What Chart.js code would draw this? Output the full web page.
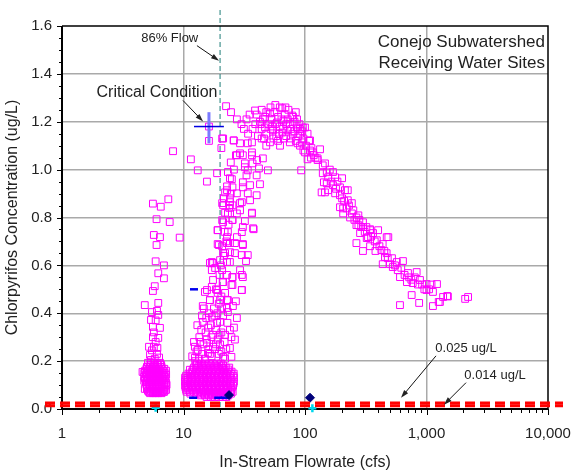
<!DOCTYPE html>
<html>
<head>
<meta charset="utf-8">
<script src="https://cdn.jsdelivr.net/npm/chart.js@4"></script>
<style>
  html, body { margin: 0; padding: 0; background: #fff; }
  #wrap { width: 573px; height: 474px; }
</style>
</head>
<body>
<div id="wrap"><canvas id="myChart" width="573" height="474"></canvas></div>
<script>
'use strict';

// ---- data (flow cfs, concentration ug/L) ----

// low flow group (~5-7 cfs), scattered squares
var lowFlowScatter = [
  [8.2,1.077],[7.5,0.876],[5.6,0.858],[6.5,0.845],[6.0,0.793],[7.7,0.781],[5.7,0.727],[6.4,0.718],
  [9.3,0.716],[6.0,0.685],[5.9,0.617],[6.9,0.600],[6.2,0.567],[6.9,0.546],[5.8,0.513],[5.6,0.493],
  [4.8,0.434],[6.2,0.443],[5.5,0.405],[6.05,0.41],[6.2,0.393],[5.4,0.372],[6.4,0.339],[5.6,0.343],
  [5.6,0.30],[6.2,0.297],[5.2,0.26],[5.7,0.26],[5.3,0.226],[6.05,0.23],[4.6,0.155],[4.8,0.084],
  [7.2,0.08],[5.9,0.28],[5.5,0.245],[6.1,0.255],[5.8,0.21],[5.4,0.205],[6.3,0.215],[5.9,0.37],[5.7,0.32]
];

// low flow group, dense core: [concentration, [flows]]
var lowFlowCore = [
  [0.193, [5.1,5.4,5.72,6.05,6.41]],
  [0.185, [5.25,5.55,5.85,6.2,6.55]],
  [0.176, [5.0,5.3,5.6,5.9,6.2,6.6]],
  [0.168, [4.95,5.25,5.55,5.9,6.25,6.6,6.95]],
  [0.160, [4.82,5.1,5.4,5.72,6.05,6.41,6.78,7.18]],
  [0.151, [4.75,5.0,5.3,5.6,5.95,6.3,6.65,7.0]],
  [0.143, [4.9,5.2,5.5,5.8,6.15,6.5,6.9,7.2]],
  [0.134, [4.75,5.0,5.3,5.6,5.95,6.3,6.65,7.0]],
  [0.126, [4.82,5.1,5.4,5.72,6.05,6.41,6.78,7.1]],
  [0.118, [4.75,5.0,5.3,5.6,5.95,6.3,6.65,7.0]],
  [0.110, [4.9,5.2,5.5,5.8,6.15,6.5,6.9,7.2]],
  [0.101, [4.95,5.25,5.55,5.9,6.25,6.6,6.95,7.25]],
  [0.093, [5.0,5.3,5.6,5.9,6.2,6.6,7.0]],
  [0.085, [5.0,5.25,5.55,5.9,6.25,6.6,6.95]],
  [0.076, [5.1,5.4,5.72,6.05,6.41,6.78,7.0]],
  [0.071, [5.2,5.55,5.9,6.25,6.6,6.9]],
  [0.066, [5.3,5.6,5.9,6.2,6.6]]
];

// 10-26 cfs dense core: [concentration, [flows]]
var midFlowCore = [
  [0.190, [12.9,13.9,15.0,16.2,17.4,18.8,20.3]],
  [0.182, [12.6,13.5,14.6,15.7,16.9,18.2,19.7,21.2]],
  [0.173, [12.2,13.1,14.2,15.3,16.5,17.8,19.2,20.7,22.3,23.8]],
  [0.165, [11.9,12.8,13.8,14.9,16.0,17.3,18.6,20.1,21.7,23.4]],
  [0.156, [11.8,12.6,13.6,14.7,15.9,17.1,18.5,20.0,21.5,23.2,24.9]],
  [0.148, [11.0,11.6,12.4,13.4,14.4,15.6,16.8,18.1,19.6,21.1,22.7,24.5,25.9]],
  [0.139, [10.5,11.3,12.2,13.1,14.2,15.3,16.5,17.8,19.2,20.7,22.3,24.1,25.8]],
  [0.131, [10.3,10.8,11.5,12.4,13.4,14.4,15.6,16.8,18.1,19.6,21.1,22.7,24.5,26.0]],
  [0.122, [10.4,10.9,11.7,12.6,13.6,14.7,15.9,17.1,18.5,20.0,21.5,23.2,24.9]],
  [0.114, [10.3,10.8,11.5,12.4,13.4,14.4,15.6,16.8,18.1,19.6,21.1,22.7,24.5,26.0]],
  [0.106, [10.5,11.3,12.2,13.1,14.2,15.3,16.5,17.8,19.2,20.7,22.3,24.1,25.8]],
  [0.097, [10.3,10.8,11.5,12.4,13.4,14.4,15.6,16.8,18.1,19.6,21.1,22.7,24.5,25.6]],
  [0.089, [10.4,10.9,11.7,12.6,13.6,14.7,15.9,17.1,18.5,20.0,21.5,23.2,24.9]],
  [0.080, [10.5,11.0,11.8,12.7,13.6,14.7,15.9,17.1,18.5,20.0,21.5,23.2,24.8]],
  [0.072, [10.6,11.3,12.2,13.1,14.2,15.3,16.5,17.8,19.2,20.7,22.3,24.1,25.4]],
  [0.064, [11.4,12.6,13.6,14.7,15.9,17.1,18.5,20.0,21.5,23.2,24.6]],
  [0.057, [13.9,15.0,16.2,17.4,18.8,20.3,21.9,23.4]],
  [0.050, [15.5,16.8,18.1,19.6,21.1,22.6]]
];

// rising plume, 11-50 cfs
var risingLimb = [
  [12.4,0.26],[13.7,0.28],[15.6,0.276],[17.5,0.26],[13.1,0.247],[15.9,0.234],[24.1,0.255],[24.8,0.218],
  [12.4,0.214],[21.2,0.218],[11.3,0.164],[21.2,0.172],[14.4,0.364],[17.1,0.385],[20,0.364],[24.1,0.33],
  [22,0.31],[24.8,0.30],[27.5,0.38],[23.2,0.405],[22.8,0.422],[16.5,0.455],[22.8,0.455],[19.1,0.485],
  [15,0.489],[17.1,0.51],[25.3,0.518],[30.2,0.497],[22.8,0.56],[25.3,0.551],[30.2,0.56],[17.1,0.58],
  [17.5,0.61],[24.1,0.614],[32.7,0.618],
  [16.5,0.23],[18.2,0.25],[19.1,0.29],[17.5,0.31],[20,0.27],[16,0.34],[18.9,0.36],[21.2,0.39],
  [17.8,0.42],[19.5,0.44],[20.5,0.47],[18.5,0.5],[21,0.53],[19.8,0.56],[20.3,0.6],[21.5,0.64],
  [20.8,0.68],[22.5,0.7],[21.8,0.74],[23.5,0.77],[22,0.82],[23.8,0.84],[21.5,0.88],[24.5,0.9],
  [22.8,0.93],[25,0.96],[23.2,0.99],[26,1.0],[24.5,1.03],
  [12.2,0.28],[12.8,0.24],[13.5,0.3],[11.8,0.22],[12.5,0.2],[14,0.33],[13,0.35],[14.7,0.42],
  [15.6,0.497],[16.5,0.61],[14.2,0.39],[15.2,0.32],[14.6,0.27],[16.2,0.4],[18.6,0.33],[20.5,0.32],
  [19.5,0.23],[22.5,0.25],[23,0.36],[26,0.34],[25.5,0.43],[27,0.45],[26.5,0.29],[21.8,0.28],
  [15,0.21],[16,0.25],[17,0.22],[18.5,0.27],[20.5,0.24],[22,0.21],[15.5,0.29],[17,0.3],
  [19.8,0.31],[14.2,0.23],[13.5,0.21],[16.8,0.35],[18,0.39],[15.4,0.38],[20.8,0.42],[19,0.4],
  [20.8,0.86],[24.1,0.851],[29.2,0.86],[36.6,0.82],[27.5,0.817],[21.2,0.78],[25.3,0.79],[32,0.785],
  [19.1,0.747],[23.2,0.739],[30.2,0.739],[37.8,0.751],[22.8,0.693],[26.5,0.693],[30.8,0.689],[19.1,0.689],
  [24.1,0.655],[30.2,0.643],[33.8,0.643],[21.2,0.651],[17.1,0.614],[20,0.622],[22.8,0.614],[18.2,0.589],
  [20.8,0.58],[29.2,0.58],[25.3,0.551],[30.8,0.551],[17.5,0.539],[21.2,0.53],[24.8,0.518],[18.9,0.497],
  [22,0.485],[30.2,0.497],[16.5,0.455],[20,0.455],[23.2,0.455],[14.4,0.43],
  [21.2,1.13],[20.5,1.09],[25.9,1.122],[29.2,1.11],[33.8,1.11],[30.8,1.06],[36.6,1.072],[27.5,1.06],
  [32,1.026],[40.3,1.04],[33.8,0.997],[41.8,1.005],[24.1,0.964],[25.3,0.926],[30.8,0.926],[33.8,0.901],
  [40,0.893],[22.8,0.914],[24.1,0.88],[21.2,0.851],[25.3,0.851],[29.2,0.83],[36.6,0.817],[23.2,0.817],
  [20.8,0.789],[25.3,0.789],[30.8,0.76],[37.4,0.755],[19.1,0.747],[22.8,0.718],[27.5,0.718],[30.8,0.685],
  [19.5,0.685],[24.1,0.693],[22,0.651],[26.5,0.651],
  [32,1.01],[33,0.976],[40,0.976],[42.6,0.939],[30.8,0.947],[35.3,0.935],[27.5,0.901],[35.3,0.872],
  [22,0.905],[24.1,0.864],[30.2,0.864],[27,1.06],[29.2,1.068],[36.6,1.06],[45,1.047],[37,1.026],[49.5,0.997],
  [22.4,1.265],[24.6,1.24],[20.8,1.13],[15.6,0.95],[11.5,1.043],[13.1,0.997],[18.9,0.985],[16.2,1.12],[16.2,1.18]
];

// peak, 27-130 cfs
var peakArc = [
  [27.5,1.21],[33,1.21],[31.4,1.17],[37,1.17],[38.8,1.247],[42.6,1.20],[46.9,1.176],[51.5,1.235],
  [54.6,1.164],[58.8,1.197],[65,1.256],[65,1.155],[70,1.19],[78.5,1.226],[79,1.15],[91,1.17],
  [100,1.176],[25.9,1.122],[36.6,1.114],[44,1.13],[51.5,1.114],[62.3,1.10],[75,1.114],[91,1.10],
  [110,1.08],[66.6,1.205],[71.7,1.164],[85.8,1.176],[96,1.176],[91,1.15],[105,1.15],[94,1.114],
  [110,1.122],[100,1.072],[116,1.072],[133,1.085],[105,1.043],[127,1.04],[93,0.997],
  [40,1.23],[44,1.25],[47,1.22],[50,1.19],[53,1.21],[56,1.24],[60,1.22],[62,1.18],[68,1.23],
  [72,1.21],[75,1.19],[82,1.20],[86,1.21],[88,1.14],[84,1.12],[76,1.13],[70,1.14],[58,1.14],
  [55,1.13],[48,1.15],[44,1.17],[41,1.14],[39,1.19],[35,1.23],[30,1.19],[34,1.15],[48,1.10],
  [60,1.12],[66,1.17],[82,1.16],[97,1.13],[102,1.10],[108,1.12],[113,1.09],[118,1.06],[122,1.05],
  [112,1.05],[97,1.08],[87,1.11],[62,1.26],[57,1.27],[73,1.25],[45,1.21],[52,1.26],
  [43,1.19],[46,1.13],[52,1.17],[57,1.19],[61,1.15],[64,1.21],[67,1.13],[77,1.17],
  [80,1.22],[90,1.19],[95,1.16],[84,1.24],[69,1.26],[48,1.24],[54,1.18]
];

// falling limb, 110-2300 cfs
var fallingLimb = [
  [127,1.047],[140,1.018],[151,0.989],[143,0.947],[155,0.914],[137,0.905],[146,1.026],[140,0.985],
  [155,0.968],[177,0.968],[202,0.964],[151,0.943],[170,0.935],[194,0.926],[213,0.914],[177,0.901],
  [202,0.88],[225,0.872],[194,0.843],[220,0.838],[243,0.86],[206,0.817],[243,0.817],[265,0.80],
  [275,0.768],[300,0.76],[343,0.747],[400,0.747],[284,0.735],[330,0.718],[470,0.718],[146,0.905],
  [194,0.893],[225,0.914],[206,0.838],[250,0.83],[275,0.809],[300,0.78],[265,0.768],[290,0.76],
  [343,0.751],[363,0.735],[322,0.714],[485,0.718],[265,0.693],[300,0.66],[343,0.68],[390,0.705],
  [436,0.689],[425,0.664],[470,0.651],[455,0.635],[436,0.605],[500,0.605],[570,0.614],[640,0.618],
  [580,0.58],[528,0.593],[605,0.551],[704,0.568],[830,0.572],[690,0.53],[770,0.526],[884,0.539],
  [1000,0.522],[1220,0.522],[755,0.476],[1000,0.497],[1130,0.489],[1480,0.472],[1370,0.468],[2200,0.468],
  [2080,0.46],[605,0.434],[870,0.443],[1130,0.43],[1260,0.447],[1290,0.447],
  [160,1.00],[165,0.95],[180,0.92],[185,0.95],[170,0.99],[210,0.87],[230,0.85],[235,0.80],
  [255,0.79],[280,0.79],[310,0.74],[320,0.76],[350,0.72],[375,0.70],[410,0.68],[380,0.66],
  [450,0.66],[480,0.63],[520,0.63],[550,0.60],[620,0.59],[660,0.56],[720,0.55],[750,0.54],
  [800,0.55],[850,0.52],[920,0.52],[960,0.50],[1050,0.50],[1100,0.52],[1500,0.47]
];

// other markers
var dashFlow = [12.2, 12.0, 19.3, 21.8];
var dashConc = [0.50, 0.047, 0.047, 0.047];
var diamondFlow = [23.7, 110];
var diamondConc = [0.058, 0.047];
var plusFlow = [5.9, 115];
var plusConc = [0.005, 0.003];

// critical condition cross: low / centre / high
var critFlow = [12.2, 16.2, 21.5];
var critConc = [1.11, 1.18, 1.24];

// reference lines
var thresholds = [0.025, 0.014];
var flow86 = 20;

// axis ticks
var xTickValues = [1, 10, 100, 1000, 10000];
var yTickLabels = ['0.0','0.2','0.4','0.6','0.8','1.0','1.2','1.4','1.6'];

// ---- helpers ----
function pairsToPoints(list) {
  return list.map(function(d) { return {x: d[0], y: d[1]}; });
}
function rowsToPoints(rows) {
  var out = [];
  rows.forEach(function(r) {
    r[1].forEach(function(f) { out.push({x: f, y: r[0]}); });
  });
  return out;
}
function zipPoints(xs, ys) {
  return xs.map(function(v, i) { return {x: v, y: ys[i]}; });
}

var magentaPts = [].concat(
  pairsToPoints(lowFlowScatter), rowsToPoints(lowFlowCore),
  pairsToPoints(risingLimb), rowsToPoints(midFlowCore),
  pairsToPoints(peakArc), pairsToPoints(fallingLimb)
);

function arrow(ctx, x1, y1, x2, y2) {
  var a = Math.atan2(y2 - y1, x2 - x1), L = 8, W = 2.6;
  ctx.beginPath();
  ctx.moveTo(x1, y1);
  ctx.lineTo(x2 - L * 0.8 * Math.cos(a), y2 - L * 0.8 * Math.sin(a));
  ctx.stroke();
  ctx.beginPath();
  ctx.moveTo(x2, y2);
  ctx.lineTo(x2 - L * Math.cos(a) + W * Math.sin(a), y2 - L * Math.sin(a) - W * Math.cos(a));
  ctx.lineTo(x2 - L * Math.cos(a) - W * Math.sin(a), y2 - L * Math.sin(a) + W * Math.cos(a));
  ctx.closePath();
  ctx.fill();
}

var FONT = '"Liberation Sans", Arial, Helvetica, sans-serif';
Chart.defaults.font.family = FONT;
Chart.defaults.color = '#222';

//annotations, reference lines, frame and tick marks
var overlay = {
  id: 'overlay',
  beforeDatasetsDraw: function(chart) {
    var c = chart.ctx, a = chart.chartArea, xs = chart.scales.x, ys = chart.scales.y;
    var px = xs.getPixelForValue(flow86);
    c.save();
    c.strokeStyle = '#1d7d78';
    c.lineWidth = 1;
    c.setLineDash([5, 3]);
    c.beginPath();
    c.moveTo(px, a.top - 16);
    c.lineTo(px, a.bottom);
    c.stroke();
    c.setLineDash([]);

    c.strokeStyle = '#000';
    // top and right border
    c.lineWidth = 1.5;
    c.beginPath();
    c.moveTo(a.left, a.top);
    c.lineTo(a.right, a.top);
    c.lineTo(a.right, a.bottom);
    c.stroke();
    // axes
    c.lineWidth = 2;
    c.beginPath();
    c.moveTo(a.left, a.top);
    c.lineTo(a.left, a.bottom);
    c.lineTo(a.right, a.bottom);
    c.stroke();
    // x tick marks (log minor)
    c.lineWidth = 1;
    c.beginPath();
    for (var p = 0; p < 4; p++) {
      for (var k = 1; k <= 9; k++) {
        var tx = Math.round(xs.getPixelForValue(k * Math.pow(10, p))) + 0.5;
        c.moveTo(tx, a.bottom);
        c.lineTo(tx, a.bottom + (k === 1 ? 6 : 4));
      }
    }
    var pe = Math.round(xs.getPixelForValue(10000)) + 0.5;
    c.moveTo(pe, a.bottom);
    c.lineTo(pe, a.bottom + 6);
    // y tick marks every 0.05
    for (var i = 0; i <= 32; i++) {
      var ty = Math.round(ys.getPixelForValue(i * 0.05)) + 0.5;
      c.moveTo(a.left, ty);
      c.lineTo(a.left - (i % 4 === 0 ? 5 : 3), ty);
    }
    c.stroke();
    c.restore();
  },
  afterDatasetsDraw: function(chart) {
    var c = chart.ctx, a = chart.chartArea, xs = chart.scales.x, ys = chart.scales.y;
    var X = function(v) { return xs.getPixelForValue(v); };
    var Y = function(v) { return ys.getPixelForValue(v); };
    c.save();

    // critical condition cross
    c.strokeStyle = '#7a7aff';
    c.lineWidth = 3;
    c.beginPath();
    c.moveTo(X(critFlow[1]), Y(critConc[0]));
    c.lineTo(X(critFlow[1]), Y(critConc[2]));
    c.stroke();
    c.strokeStyle = '#0000e0';
    c.lineWidth = 1.5;
    c.beginPath();
    c.moveTo(X(critFlow[0]), Y(critConc[1]));
    c.lineTo(X(critFlow[2]), Y(critConc[1]));
    c.stroke();

    // threshold lines
    c.strokeStyle = '#ff0000';
    c.lineWidth = 3;
    c.setLineDash([10, 5]);
    thresholds.forEach(function(t) {
      c.beginPath();
      c.moveTo(a.left - 17, Y(t));
      c.lineTo(a.right + 15, Y(t));
      c.stroke();
    });
    c.setLineDash([]);

    // texts and arrows
    c.fillStyle = '#222';
    c.strokeStyle = '#111';
    c.lineWidth = 1;
    c.textBaseline = 'middle';
    c.font = '17px ' + FONT;
    c.textAlign = 'right';
    c.fillText('Conejo Subwatershed', a.right - 3, a.top + 16);
    c.fillText('Receiving Water Sites', a.right - 3, a.top + 37);
    c.textAlign = 'center';
    c.font = '13px ' + FONT;
    c.fillText('86% Flow', X(7.7), Y(1.55));
    arrow(c, X(12.9), Y(1.518), X(19.6), Y(1.455));
    c.font = '16px ' + FONT;
    c.fillText('Critical Condition', X(6.05), Y(1.322));
    arrow(c, X(9.9), Y(1.289), X(14.5), Y(1.201));
    c.font = '13px ' + FONT;
    c.fillText('0.025 ug/L', X(2115), Y(0.255));
    arrow(c, X(1197), Y(0.222), X(617), Y(0.047));
    c.fillText('0.014 ug/L', X(3664), Y(0.139));
    arrow(c, X(2115), Y(0.110), X(1393), Y(0.018));
    c.restore();
  }
};

var ctx = document.getElementById('myChart').getContext('2d');

var chart = new Chart(ctx, {
  type: 'scatter',
  data: {
    datasets: [{
      label: 'plus',
      data: zipPoints(plusFlow, plusConc),
      pointStyle: 'cross',
      pointRadius: 4,
      pointBorderWidth: 2.5,
      pointBorderColor: '#00d8ee',
      pointBackgroundColor: '#00d8ee',
      clip: false
    }, {
      label: 'diamond',
      data: zipPoints(diamondFlow, diamondConc),
      pointStyle: 'rectRot',
      pointRadius: 4.5,
      pointBorderWidth: 1,
      pointBorderColor: '#00007a',
      pointBackgroundColor: '#00007a',
      clip: false
    }, {
      label: 'dash',
      data: zipPoints(dashFlow, dashConc),
      pointStyle: 'line',
      pointRadius: 4,
      pointBorderWidth: 2.5,
      pointBorderColor: '#0000ee',
      clip: false
    }, {
      label: 'samples',
      data: magentaPts,
      pointStyle: 'rect',
      pointRadius: 4.8,
      pointBorderWidth: 1,
      pointBorderColor: '#ff00ff',
      pointBackgroundColor: 'rgba(0,0,0,0)',
      clip: false
    }]
  },
  options: {
    responsive: false,
    animation: false,
    events: [],
    layout: { padding: { top: 26, right: 25, left: 0, bottom: 0 } },
    plugins: { legend: { display: false }, tooltip: { enabled: false } },
    scales: {
      x: {
        type: 'logarithmic',
        min: 1,
        max: 10000,
        afterBuildTicks: function(s) {
          s.ticks = xTickValues.map(function(v) { return {value: v}; });
        },
        afterFit: function(s) {
          s.height = 65;
          s.paddingLeft = 0;
          s.paddingRight = 0;
        },
        ticks: {
          callback: function(v) { return Number(v).toLocaleString('en-US'); },
          font: { size: 15 },
          padding: 16,
          maxRotation: 0,
          autoSkip: false
        },
        grid: {
          drawTicks: false,
          lineWidth: 1.5,
          color: function(c) {
            var v = c.tick && c.tick.value;
            return (v > 1 && v < 10000) ? '#a9a9a9' : 'rgba(0,0,0,0)';
          }
        },
        border: { display: false },
        title: {
          display: true,
          text: 'In-Stream Flowrate (cfs)',
          font: { size: 16 },
          padding: { top: 0, bottom: 2 }
        }
      },
      y: {
        min: 0,
        max: 1.6,
        afterFit: function(s) {
          s.width = 62;
          s.paddingTop = 0;
          s.paddingBottom = 0;
        },
        ticks: {
          stepSize: 0.2,
          callback: function(v, i) { return yTickLabels[i]; },
          font: { size: 15 },
          padding: 10
        },
        grid: {
          drawTicks: false,
          lineWidth: 1.5,
          color: function(c) {
            var v = c.tick && c.tick.value;
            return (v > 0.01 && v < 1.59) ? '#a9a9a9' : 'rgba(0,0,0,0)';
          }
        },
        border: { display: false },
        title: {
          display: true,
          text: 'Chlorpyrifos Concentration (ug/L)',
          font: { size: 16 },
          padding: { top: 3, bottom: 0 }
        }
      }
    }
  },
  plugins: [overlay]
});
</script>
</body>
</html>
